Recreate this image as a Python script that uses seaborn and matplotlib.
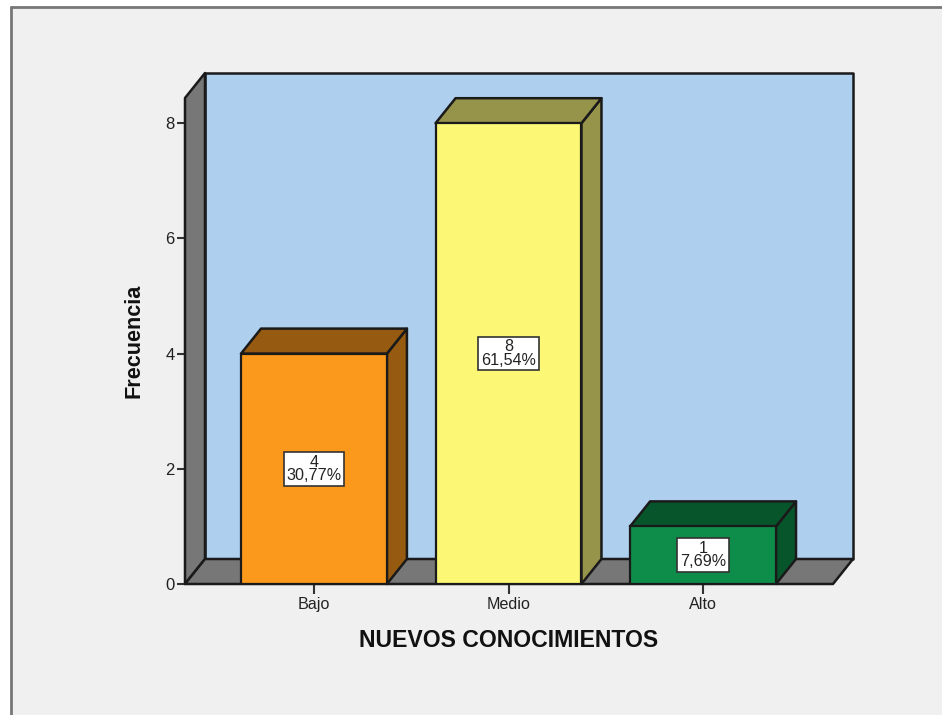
import pandas as pd
import matplotlib
matplotlib.use('Agg')
import matplotlib.pyplot as plt
from matplotlib.patches import Polygon, Rectangle
from matplotlib.lines import Line2D
import seaborn as sns

categories = ['Bajo', 'Medio', 'Alto']
counts = [4, 8, 1]
percents = ['30,77%', '61,54%', '7,69%']
y_ticks = [0, 2, 4, 6, 8]

bar_colors = ['#FB991C', '#FCF876', '#0E8C4A']
top_colors = ['#965A10', '#96934A', '#07562B']

W, H = 942, 715
EDGE = '#1a1a1a'

sns.set_theme(style='white')
plt.rcParams['font.family'] = ['Liberation Sans', 'DejaVu Sans']

fig = plt.figure(figsize=(W / 100, H / 100), dpi=100, facecolor='#F0F0F0')
# front plane of the 3d box, in pixels of the reference
ax = fig.add_axes([185 / W, 1 - 584 / H, (833 - 185) / W, (584 - 98) / H])
ax.patch.set_alpha(0)

df = pd.DataFrame({'cat': categories, 'n': counts})
sns.barplot(data=df, x='cat', y='n', hue='cat', palette=bar_colors, legend=False,
            width=0.75, saturation=1, edgecolor=EDGE, linewidth=1.6, ax=ax, zorder=5)

ax.set_xlim(-0.663, 2.668)
ax.set_ylim(0, 486 / 57.6)
x0, x1 = ax.get_xlim()
y0, y1 = ax.get_ylim()

# depth of the box expressed in data units
dx = 20 / (648 / (x1 - x0))
dy = 25 / (486 / (y1 - y0))


def face(points, color, z):
    ax.add_patch(Polygon(points, closed=True, facecolor=color, edgecolor=EDGE,
                         linewidth=1.8, clip_on=False, zorder=z, joinstyle='round'))


# walls
face([(x0 + dx, y0 + dy), (x1 + dx, y0 + dy), (x1 + dx, y1 + dy), (x0 + dx, y1 + dy)], '#AECFEE', 1)
face([(x0, y0), (x0 + dx, y0 + dy), (x0 + dx, y1 + dy), (x0, y1)], '#777777', 2)
face([(x0, y0), (x1, y0), (x1 + dx, y0 + dy), (x0 + dx, y0 + dy)], '#777777', 2)

# sides and tops of the bars, labels on the front
for bar, n, pct, top in zip(ax.patches, counts, percents, top_colors):
    left, right = bar.get_x(), bar.get_x() + bar.get_width()
    face([(right, 0), (right + dx, dy), (right + dx, n + dy), (right, n)], top, 4)
    face([(left, n), (right, n), (right + dx, n + dy), (left + dx, n + dy)], top, 4)
    ax.text((left + right) / 2, n / 2, f'{n}\n{pct}', ha='center', va='center',
            fontsize=11.6, color='#222222', linespacing=0.88, zorder=7,
            bbox=dict(boxstyle='square,pad=0.16', facecolor='white', edgecolor='#333333', linewidth=1.2))

sns.despine(ax=ax, left=True, bottom=True, top=True, right=True)
ax.set_yticks(y_ticks)
ax.set_xticks(range(len(categories)))
ax.set_xticklabels(categories)
ax.tick_params(axis='y', left=True, length=6, width=1.5, color='#333333', pad=1.5,
               labelsize=12, labelcolor='#222222')
ax.tick_params(axis='x', bottom=True, length=7.5, width=1.5, color='#333333', pad=2,
               labelsize=11.6, labelcolor='#222222')

ax.set_xlabel('NUEVOS CONOCIMIENTOS', fontsize=16.6, fontweight='bold', color='#111111', labelpad=12)
ax.set_ylabel('Frecuencia', fontsize=15.6, fontweight='bold', color='#111111', labelpad=15)

# outer window frame
fig.add_artist(Line2D([11 / W, 11 / W], [0, 1 - 7 / H], color='#777777', linewidth=2))
fig.add_artist(Line2D([11 / W, 1], [1 - 7 / H, 1 - 7 / H], color='#777777', linewidth=2))
fig.add_artist(Rectangle((0, 0), 11 / W, 1, transform=fig.transFigure, facecolor='white', edgecolor='none', zorder=-1))
fig.add_artist(Rectangle((0, 1 - 7 / H), 1, 7 / H, transform=fig.transFigure, facecolor='white', edgecolor='none', zorder=-1))

fig.savefig('out.png', dpi=100, facecolor=fig.get_facecolor())
